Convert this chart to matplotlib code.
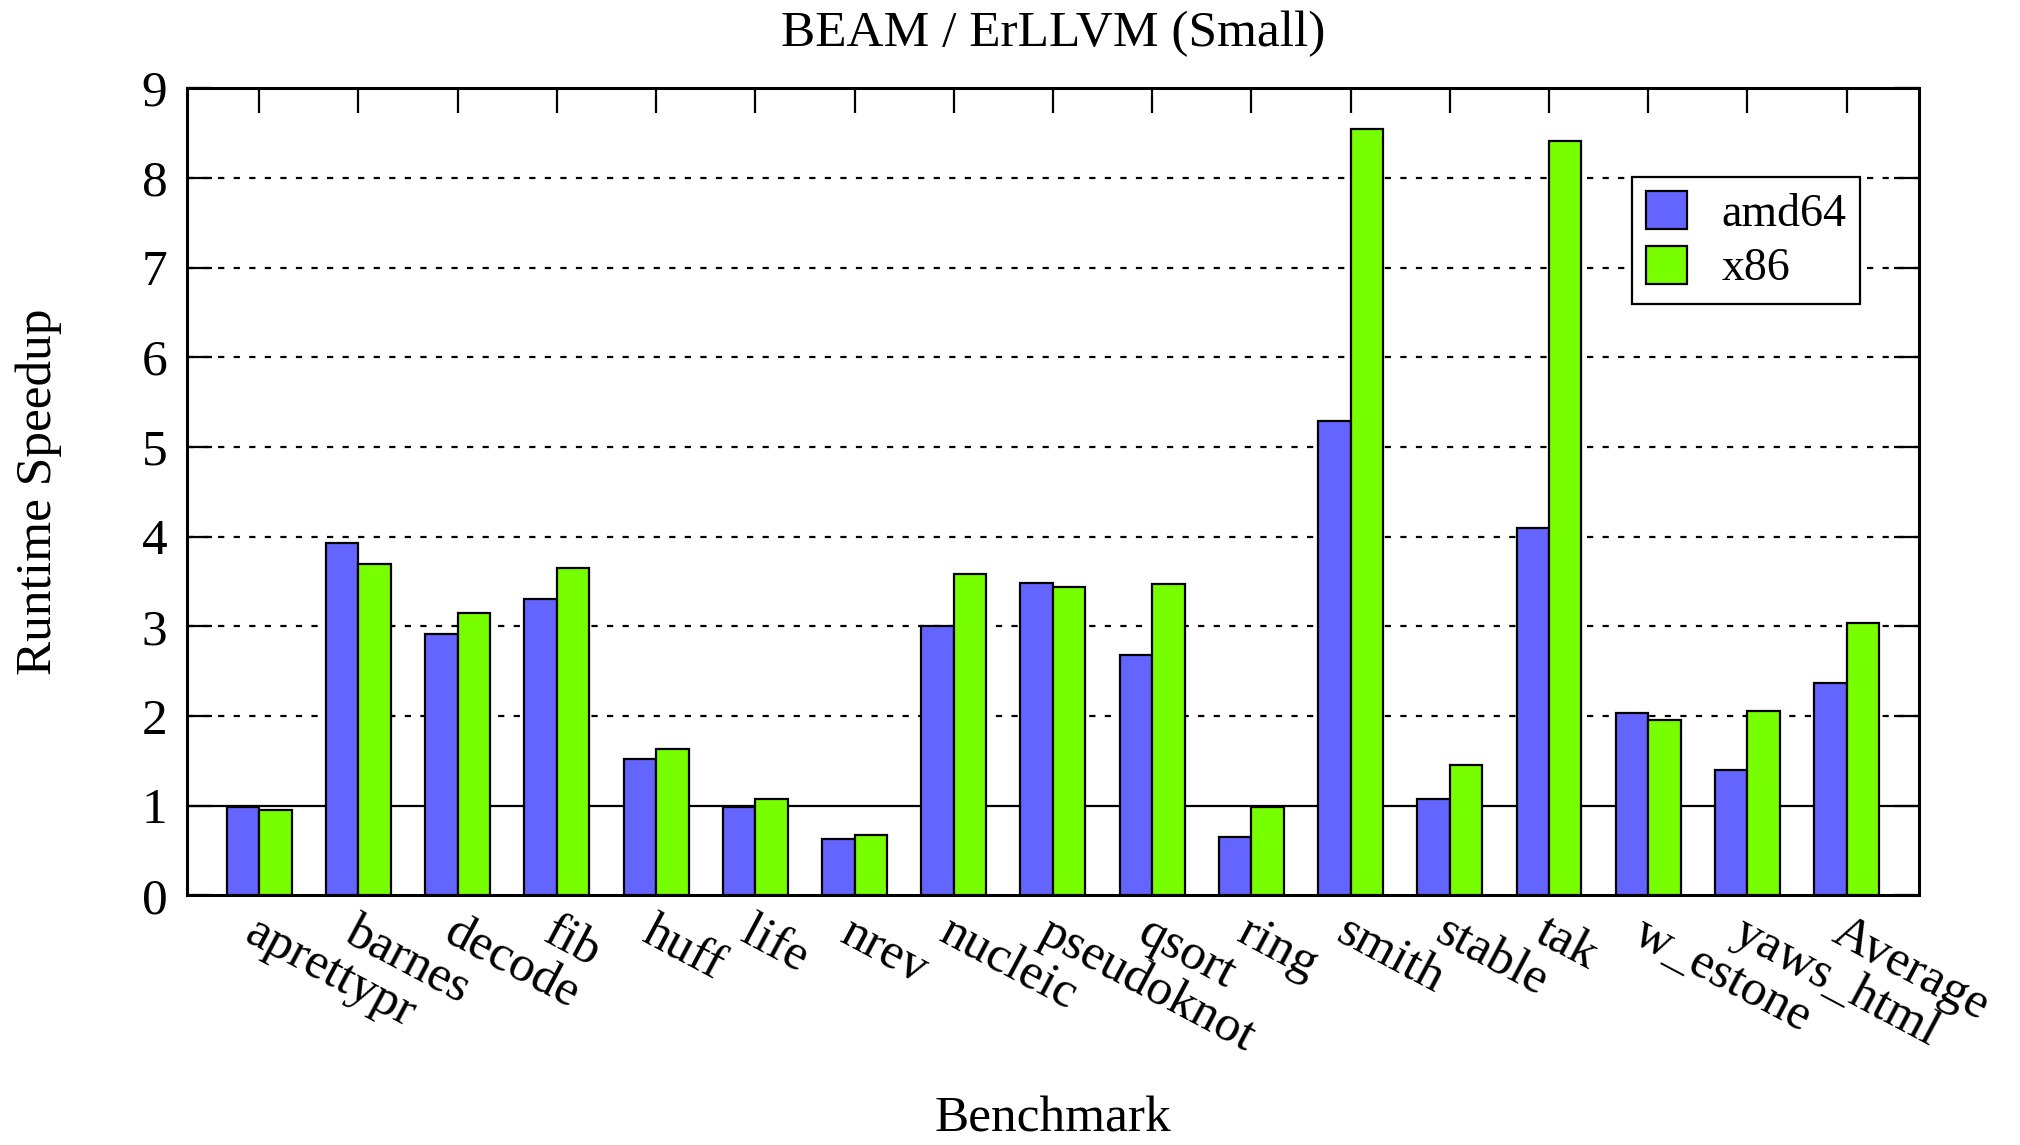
import numpy as np
import matplotlib
matplotlib.use("Agg")
import matplotlib.pyplot as plt

benchmarks = ["aprettypr", "barnes", "decode", "fib", "huff", "life", "nrev",
              "nucleic", "pseudoknot", "qsort", "ring", "smith", "stable",
              "tak", "w_estone", "yaws_html", "Average"]
amd64 = [0.98, 3.93, 2.91, 3.31, 1.52, 0.98, 0.63, 3.00, 3.48, 2.68,
         0.65, 5.29, 1.07, 4.10, 2.03, 1.40, 2.37]
x86 = [0.95, 3.70, 3.15, 3.65, 1.63, 1.07, 0.67, 3.58, 3.44, 3.47,
       0.98, 8.54, 1.45, 8.41, 1.96, 2.06, 3.04]
yticks = list(range(0, 10))

plt.rcParams['font.family'] = ['Liberation Serif', 'DejaVu Serif']
fs = 37

fig = plt.figure(figsize=(20.2, 11.45), dpi=100)
ax = fig.add_axes([0.0925, 0.218, 0.8575, 0.705])

x = np.arange(len(benchmarks))
w = 0.327
ax.bar(x - w/2, amd64, w, color='#6464ff', edgecolor='black', linewidth=1.6,
       label='amd64', zorder=3)
ax.bar(x + w/2, x86, w, color='#77ff00', edgecolor='black', linewidth=1.6,
       label='x86', zorder=3)

# dashed grid, solid line at 1
for yv in yticks[2:]:
    ax.axhline(yv, color='black', lw=1.6, ls=(0, (2.8, 4.2)), zorder=1)
ax.axhline(1, color='black', lw=1.6, zorder=1)

ax.set_xlim(-0.73, len(benchmarks) - 1 + 0.73)
ax.set_ylim(0, 9)
ax.set_yticks(yticks)
ax.set_xticks(x)
ax.set_xticklabels(benchmarks, rotation=-28, ha='left', va='top',
                   rotation_mode='anchor')
ax.tick_params(axis='both', direction='in', length=18, width=1.6,
               labelsize=fs, top=True, right=True)
ax.tick_params(axis='x', pad=10)
ax.tick_params(axis='y', pad=14)
for s in ax.spines.values():
    s.set_linewidth(2.2)

ax.set_title('BEAM / ErLLVM (Small)', fontsize=fs, pad=30)
ax.set_ylabel('Runtime Speedup', fontsize=fs, labelpad=57)
ax.set_xlabel('Benchmark', fontsize=fs, labelpad=25)

leg = ax.legend(loc='upper right', bbox_to_anchor=(0.966, 0.89),
                borderaxespad=0, fontsize=33, frameon=True, fancybox=False,
                handlelength=0.9, handleheight=0.9, handletextpad=0.75,
                labelspacing=0.22, borderpad=0.3)
leg.get_frame().set_edgecolor('black')
leg.get_frame().set_linewidth(1.6)
leg.get_frame().set_facecolor('white')
leg.get_frame().set_alpha(1)

fig.savefig('out.png', dpi=100)
